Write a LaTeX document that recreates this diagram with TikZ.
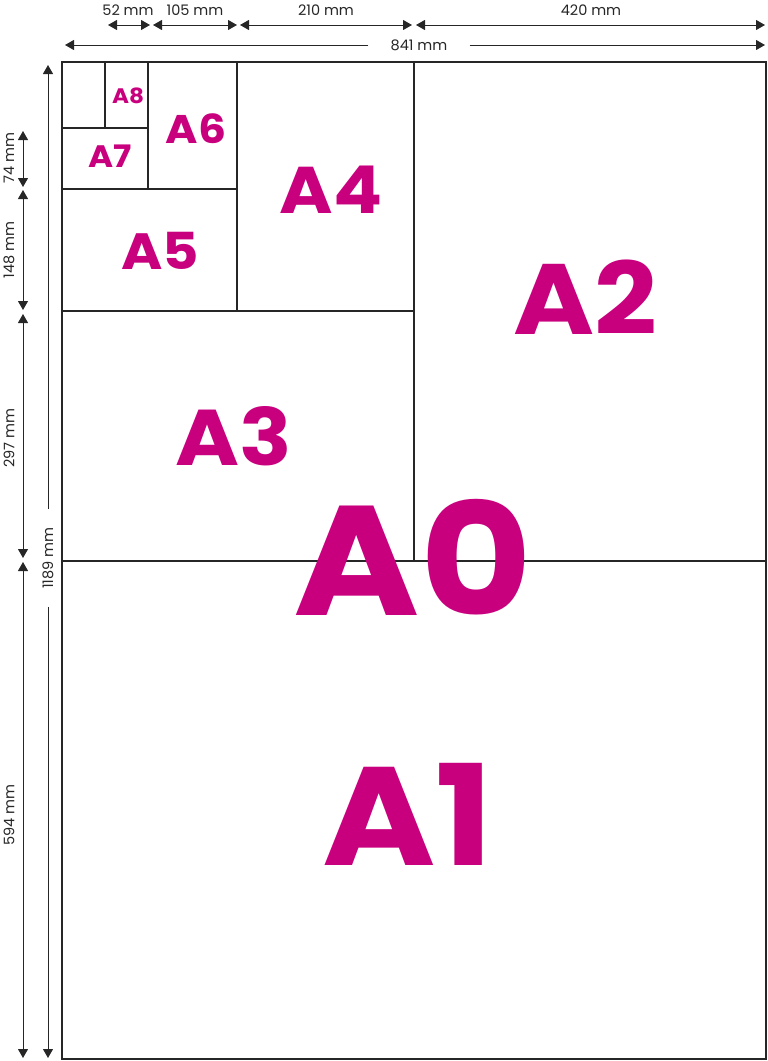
\documentclass[tikz,border=0pt]{standalone}
\usepackage{fontspec}
\setmainfont{Poppins}
\usepackage{xcolor}
\definecolor{paperpink}{HTML}{C8007D}
\definecolor{inkgray}{HTML}{262626}
\usepackage{tikz}
\usetikzlibrary{arrows.meta}
\newcommand{\widesize}[1]{\scalebox{1.1}[1]{#1}}

\begin{document}
\begin{tikzpicture}[x=1pt,y=-1pt,
sheetline/.style={draw=inkgray,line width=1.4pt},
sizelabel/.style={font=\bfseries\fontsize{#1}{#1}\selectfont,text=paperpink,inner sep=0pt},
dimarr/.style={{Triangle[length=9pt,width=10pt]}-{Triangle[length=9pt,width=10pt]},draw=inkgray,line width=1pt},
dimone/.style={-{Triangle[length=9pt,width=10pt]},draw=inkgray,line width=1pt},
dimtext/.style={font=\fontsize{14.5}{15}\selectfont,text=inkgray,inner sep=0pt}]
\useasboundingbox (0,0) rectangle (768,1061);
% sheet and its halvings
\coordinate (nw) at (62,62);\coordinate (se) at (766,1059);
\draw[sheetline] (nw) rectangle (se);
\foreach \xa/\ya/\xb/\yb in {62/561/766/561,414/62/414/561,62/311/414/311,237/62/237/311,62/189/237/189,148/62/148/189,62/128/148/128,105/62/105/128}{\draw[sheetline] (\xa,\ya)--(\xb,\yb);}
% size names
\node[sizelabel=156] (lblA0) at (413,557) {\widesize{A0}};
\node[sizelabel=140] (lblA1) at (408,814) {\widesize{A1}};
\node[sizelabel=100] (lblA2) at (585,297) {\widesize{A2}};
\node[sizelabel=79] (lblA3) at (234,436) {\widesize{A3}};
\node[sizelabel=66] (lblA4) at (331,190) {\widesize{A4}};
\node[sizelabel=51] (lblA5) at (160,251) {\widesize{A5}};
\node[sizelabel=40] (lblA6) at (196,129) {\widesize{A6}};
\node[sizelabel=31] (lblA7) at (110,156) {\widesize{A7}};
\node[sizelabel=21] (lblA8) at (128,96) {\widesize{A8}};
% widths along the top
\foreach \n/\a/\b/\c in {52/108/150/128,105/153/237/195,210/240/412/326,420/416/765/591}{
\coordinate (w\n a) at (\a,25);\coordinate (w\n b) at (\b,25);
\draw[dimarr] (w\n a)--(w\n b);
\node[dimtext] (tw\n) at (\c,10) {\n\ mm};}
\coordinate (w841a) at (65,45);\coordinate (w841b) at (765,45);
\node[dimtext,inner xsep=22pt] (tw841) at (419,45) {841 mm};
\draw[dimone] (tw841.west)--(w841a);\draw[dimone] (tw841.east)--(w841b);
% heights down the left
\foreach \n/\a/\b/\c in {74/131/187/158,148/190/310/250,297/314/558/438,594/562/1058/815}{
\coordinate (h\n a) at (23,\a);\coordinate (h\n b) at (23,\b);
\draw[dimarr] (h\n a)--(h\n b);
\node[dimtext,rotate=90] (th\n) at (9,\c) {\n\ mm};}
\coordinate (h1189a) at (48,65);\coordinate (h1189b) at (48,1058);
\node[dimtext,rotate=90,inner xsep=18pt] (th1189) at (48,558) {1189 mm};
\draw[dimone] (th1189.east)--(h1189a);\draw[dimone] (th1189.west)--(h1189b);
\end{tikzpicture}
\end{document}
